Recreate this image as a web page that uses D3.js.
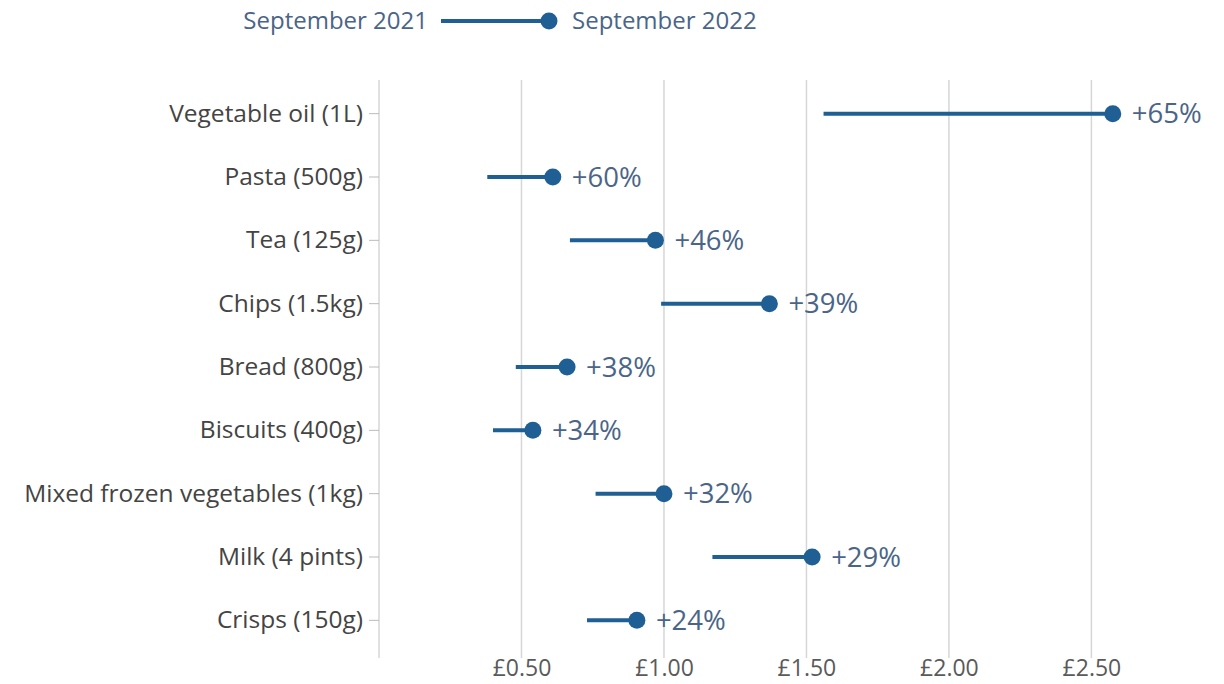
<!DOCTYPE html>
<html><head><meta charset="utf-8">
<script src="https://cdn.jsdelivr.net/npm/d3@7"></script>
<style>body{margin:0;background:#fff;}svg{display:block;font-family:"Open Sans",sans-serif;}</style>
</head><body>
<script>
const categories = ["Vegetable oil (1L)","Pasta (500g)","Tea (125g)","Chips (1.5kg)","Bread (800g)","Biscuits (400g)","Mixed frozen vegetables (1kg)","Milk (4 pints)","Crisps (150g)"];
const sep2021 = [1.56,0.38,0.67,0.99,0.48,0.40,0.76,1.17,0.73];
const sep2022 = [2.575,0.61,0.97,1.37,0.66,0.54,1.00,1.52,0.905];
const changeLabels = ["+65%","+60%","+46%","+39%","+38%","+34%","+32%","+29%","+24%"];
const tickValues = [0.5,1.0,1.5,2.0,2.5];
const seriesNames = ["September 2021","September 2022"];

const W=1224,H=684, blue="#1f5f94", labelBlue="#4a6587";
const svg=d3.select("body").append("svg").attr("width",W).attr("height",H);
const x=d3.scaleLinear().domain([0,2.86]).range([379,1194]);
const y=d3.scaleBand().domain(categories).range([82,652]);
const plotTop=80,plotBottom=652;

// gridlines
svg.append("g").selectAll("line").data(tickValues).join("line")
 .attr("x1",d=>x(d)).attr("x2",d=>x(d)).attr("y1",plotTop).attr("y2",plotBottom+6)
 .attr("stroke","#d6d6d6").attr("stroke-width",1.5);
// left axis line
svg.append("line").attr("x1",x(0)).attr("x2",x(0)).attr("y1",plotTop).attr("y2",plotBottom+6).attr("stroke","#d6d6d6").attr("stroke-width",1.5);

// x axis labels
const xa=svg.append("g").attr("transform",`translate(0,${plotBottom})`)
 .call(d3.axisBottom(x).tickValues(tickValues).tickSize(0).tickPadding(8).tickFormat(d=>"£"+d3.format(".2f")(d)));
xa.select(".domain").remove();
xa.selectAll("text").attr("font-size",23).attr("fill","#5a5a5a").attr("font-family","Open Sans");

// y axis
const ya=svg.append("g").attr("transform",`translate(${x(0)},0)`)
 .call(d3.axisLeft(y).tickSize(10).tickPadding(6));
ya.select(".domain").remove();
ya.selectAll("line").attr("stroke","#bbb");
ya.selectAll("text").attr("font-size",24.5).attr("fill","#444").attr("font-family","Open Sans");

const idx=d3.range(categories.length);
const cy=i=>y(categories[i])+y.bandwidth()/2;
svg.append("g").selectAll("line").data(idx).join("line")
 .attr("x1",i=>x(sep2021[i])).attr("x2",i=>x(sep2022[i])).attr("y1",cy).attr("y2",cy)
 .attr("stroke",blue).attr("stroke-width",4);
svg.append("g").selectAll("circle").data(idx).join("circle")
 .attr("cx",i=>x(sep2022[i])).attr("cy",cy).attr("r",8.5).attr("fill",blue);
svg.append("g").selectAll("text").data(idx).join("text")
 .attr("x",i=>x(sep2022[i])+19).attr("y",cy).attr("dy","0.35em")
 .attr("font-size",27.5).attr("fill",labelBlue).text(i=>changeLabels[i]);

// legend
const lg=svg.append("g");
lg.append("text").attr("x",428).attr("y",21).attr("dy","0.35em").attr("text-anchor","end").attr("font-size",24).attr("fill",labelBlue).text(seriesNames[0]);
lg.append("line").attr("x1",441).attr("x2",549).attr("y1",21).attr("y2",21).attr("stroke",blue).attr("stroke-width",4);
lg.append("circle").attr("cx",549).attr("cy",21).attr("r",8.5).attr("fill",blue);
lg.append("text").attr("x",572).attr("y",21).attr("dy","0.35em").attr("font-size",24).attr("fill",labelBlue).text(seriesNames[1]);
</script>
</body></html>
